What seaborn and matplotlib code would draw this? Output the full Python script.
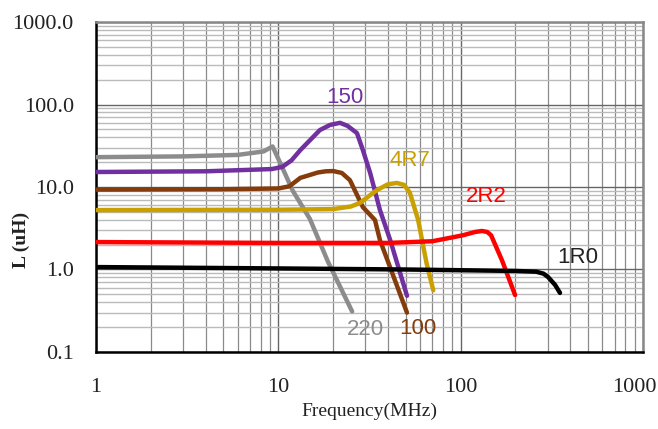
import matplotlib
matplotlib.use('Agg')
import matplotlib.pyplot as plt
import matplotlib.ticker as mticker
import matplotlib.transforms as mtransforms
import pandas as pd
import seaborn as sns

# Inductance vs frequency curves
freq_220 = [1, 3, 6, 8.3, 9.3, 10.3, 12, 14.9, 18.7, 25.4]
ind_220 = [23, 23.5, 24.5, 27, 31, 19, 9, 4.1, 1.25, 0.31]

freq_150 = [1, 4, 9.2, 10.5, 11.8, 13.2, 16.9, 19.2, 21.8, 24.0, 27, 29.1, 31.9, 36.1, 41.1, 50.8]
ind_150 = [15.2, 15.5, 16.5, 17.5, 21, 28, 49, 56.5, 60, 55, 45, 28, 14.8, 5.25, 2.27, 0.48]

freq_100 = [1, 5, 10, 11.5, 13.2, 16.5, 18.2, 20, 22.3, 24.7, 29.1, 33.9, 36.1, 50.8]
ind_100 = [9.3, 9.4, 9.6, 10.2, 12.9, 15, 15.5, 15.6, 14.8, 12.1, 5.7, 3.98, 2.27, 0.30]

freq_4r7 = [1, 10, 20, 25, 28, 31.5, 34.8, 40, 44.7, 49, 52.7, 58.5, 65, 70.8]
ind_4r7 = [5.25, 5.3, 5.4, 5.8, 6.4, 7.8, 9.2, 10.8, 11.2, 10.6, 8.5, 3.98, 1.2, 0.56]

freq_2r2 = [1, 10, 40, 70, 90, 103, 120, 131, 140, 147, 169, 199]
ind_2r2 = [2.15, 2.1, 2.1, 2.2, 2.45, 2.6, 2.85, 2.93, 2.85, 2.6, 1.28, 0.49]

freq_1r0 = [1, 10, 50, 100, 200, 260, 285, 302, 330, 351]
ind_1r0 = [1.07, 1.03, 1.0, 0.98, 0.96, 0.94, 0.89, 0.81, 0.65, 0.52]

names = ['220', '150', '100', '4R7', '2R2', '1R0']
colors = ['#8c8c8c', '#7030a0', '#843c0c', '#c9a000', '#ff0000', '#000000']

# label anchor points (freq, L)
label_f = [29.9, 23.3, 58.5, 52.7, 139, 440]
label_l = [0.185, 123, 0.195, 21.2, 7.6, 1.38]

y_ticks = [0.1, 1, 10, 100, 1000]
y_labels = ['0.1', '1.0', '10.0', '100.0', '1000.0']
x_ticks = [1, 10, 100, 1000]
x_labels = ['1', '10', '100', '1000']

curves = [(freq_220, ind_220), (freq_150, ind_150), (freq_100, ind_100),
          (freq_4r7, ind_4r7), (freq_2r2, ind_2r2), (freq_1r0, ind_1r0)]
rows = []
for name, (fs, ls) in zip(names, curves):
    for f, l in zip(fs, ls):
        rows.append({'part': name, 'freq': f, 'L': l})
df = pd.DataFrame(rows)

sns.set_style('white')
plt.rcParams['font.family'] = ['Liberation Serif', 'DejaVu Serif']

fig = plt.figure(figsize=(6.58, 4.29), dpi=100)
ax = fig.add_axes([0.146, 0.1795, 0.831, 0.7692])

sns.lineplot(data=df, x='freq', y='L', hue='part', hue_order=names,
             palette=colors, estimator=None, sort=False, lw=3.2,
             legend=False, ax=ax, solid_capstyle='round',
             solid_joinstyle='round', zorder=3)

ax.set_xscale('log')
ax.set_yscale('log')
ax.set_xlim(1, 1000)
ax.set_ylim(0.1, 1000)

ax.xaxis.set_minor_locator(mticker.LogLocator(base=10, subs=range(2, 10)))
ax.yaxis.set_minor_locator(mticker.LogLocator(base=10, subs=range(2, 10)))
ax.grid(which='major', axis='both', color='#666666', lw=1.0)
ax.grid(which='minor', axis='x', color='#8a8a8a', lw=0.9)
ax.grid(which='minor', axis='y', color='#bbbbbb', lw=1.0)
ax.set_axisbelow(True)

ax.set_xticks(x_ticks)
ax.set_xticklabels(x_labels)
ax.set_yticks(y_ticks)
ax.set_yticklabels(y_labels)
ax.yaxis.set_minor_formatter(mticker.NullFormatter())
ax.xaxis.set_minor_formatter(mticker.NullFormatter())
ax.tick_params(which='both', length=0)
ax.tick_params(axis='x', pad=19, labelsize=16, labelcolor='#222222')
ax.tick_params(axis='y', pad=16, labelsize=16, labelcolor='#222222')

# nudge "1000" so it stays inside the canvas
last = ax.get_xticklabels()[-1]
last.set_transform(last.get_transform() +
                   mtransforms.ScaledTranslation(-6 / 72, 0, fig.dpi_scale_trans))

for side in ['left', 'bottom']:
    ax.spines[side].set_color('black')
    ax.spines[side].set_linewidth(1.8)
for side in ['top', 'right']:
    ax.spines[side].set_color('#888888')
    ax.spines[side].set_linewidth(1.8)

ax.set_xlabel('Frequency(MHz)', fontsize=14, color='#222222', labelpad=4)
ax.set_ylabel('')
fig.text(0.032, 0.44, 'L (uH)', rotation=90, fontsize=14, fontweight='bold',
         color='#222222', ha='center', va='center')

for name, c, fx, ly in zip(names, colors, label_f, label_l):
    tc = '#222222' if name == '1R0' else c
    ax.text(fx, ly, name, color=tc, fontsize=16, ha='center', va='center',
            family=['Liberation Sans Narrow', 'Liberation Sans', 'DejaVu Sans'], zorder=4)

fig.savefig('out.png', dpi=100, facecolor='white')
